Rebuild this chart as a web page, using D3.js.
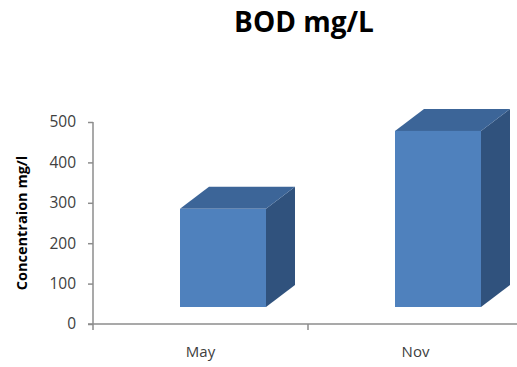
<!DOCTYPE html>
<html>
<head>
<meta charset="utf-8">
<script src="https://cdn.jsdelivr.net/npm/d3@7"></script>
<style>
  html, body { margin: 0; padding: 0; background: #ffffff; }
  svg { display: block; }
</style>
</head>
<body>
<svg id="chart" width="517" height="367"></svg>
<script>
// BOD concentration by sampling month
const categories = ["May", "Nov"];
const bodValues = [285, 478];
const yTicks = [0, 100, 200, 300, 400, 500];
const titleText = "BOD mg/L";
const yLabelText = "Concentraion mg/l";

(function () {
const svg = d3.select("#chart");
const font = "'Open Sans', 'DejaVu Sans', sans-serif";

// plot frame
const plotLeft = 93, plotRight = 523, plotTop = 122, plotBottom = 324;

const x = d3.scaleBand().domain(categories).range([plotLeft, plotRight]).paddingInner(0).paddingOuter(0);
const y = d3.scaleLinear().domain([0, 500]).range([plotBottom, plotTop]);

// 3D column geometry
const depthX = 29, depthY = -22;
const floorLift = 17;            // floor of the columns sits slightly above the axis line
const faceOffset = 87, faceWidth = 86;

const colFront = "#4f81bd", colTop = "#3c6598", colSide = "#30527d";

const bars = svg.append("g");
categories.forEach((c, i) => {
  const x0 = x(c) + faceOffset, x1 = x0 + faceWidth;
  const yb = y(0) - floorLift;
  const yt = y(bodValues[i]);
  const g = bars.append("g");
  // right side face
  g.append("path")
    .attr("d", `M${x1},${yt} L${x1 + depthX},${yt + depthY} L${x1 + depthX},${yb + depthY} L${x1},${yb} Z`)
    .attr("fill", colSide);
  // top face
  g.append("path")
    .attr("d", `M${x0},${yt} L${x0 + depthX},${yt + depthY} L${x1 + depthX},${yt + depthY} L${x1},${yt} Z`)
    .attr("fill", colTop);
  // front face
  g.append("rect")
    .attr("x", x0).attr("y", yt)
    .attr("width", faceWidth).attr("height", yb - yt)
    .attr("fill", colFront);
});

// value axis
const yAxis = svg.append("g")
  .attr("transform", `translate(${plotLeft},0)`)
  .call(d3.axisLeft(y).tickValues(yTicks).tickSize(5).tickPadding(12).tickFormat(d3.format("d")));
yAxis.select(".domain").attr("stroke", "#8c8c8c").attr("stroke-width", 1.5)
  .attr("d", `M0,${plotTop}V${plotBottom + 6}`);
yAxis.selectAll(".tick line").attr("stroke", "#8c8c8c").attr("stroke-width", 1.5);
yAxis.selectAll(".tick text")
  .attr("font-family", font).attr("font-size", 15.5).attr("fill", "#404040");

// category axis
const xAxis = svg.append("g")
  .attr("transform", `translate(0,${plotBottom})`)
  .call(d3.axisBottom(x).tickSize(0).tickPadding(22));
xAxis.select(".domain").attr("stroke", "#8c8c8c").attr("stroke-width", 1.5)
  .attr("d", `M${plotLeft - 5},0H${plotRight}`);
xAxis.selectAll(".tick text")
  .attr("font-family", font).attr("font-size", 15).attr("fill", "#404040");
// tick marks between categories
xAxis.selectAll(".sep").data([x(categories[1])]).enter().append("line")
  .attr("class", "sep")
  .attr("x1", d => d).attr("x2", d => d)
  .attr("y1", 0).attr("y2", 6)
  .attr("stroke", "#8c8c8c").attr("stroke-width", 1.5);

// title
svg.append("text")
  .attr("x", 304).attr("y", 32)
  .attr("text-anchor", "middle")
  .attr("font-family", font).attr("font-weight", "bold").attr("font-size", 28)
  .attr("fill", "#000")
  .text(titleText);

// value axis title
svg.append("text")
  .attr("transform", "translate(27,223) rotate(-90)")
  .attr("text-anchor", "middle")
  .attr("font-family", font).attr("font-weight", "bold").attr("font-size", 14.5)
  .attr("fill", "#000")
  .text(yLabelText);
})();
</script>
</body>
</html>
